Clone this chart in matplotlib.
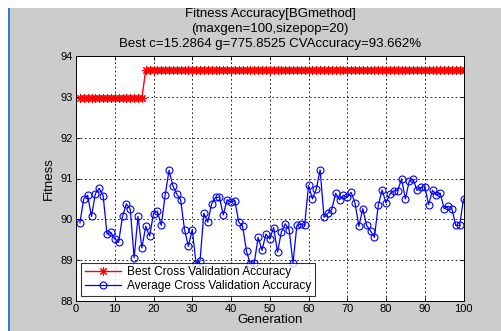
import matplotlib
matplotlib.use("Agg")
import matplotlib.pyplot as plt
from matplotlib.patches import Rectangle
import numpy as np

plt.rcParams['font.family'] = ['Liberation Sans', 'DejaVu Sans']

generations = np.arange(1, 101)

best_acc = [92.97] * 17 + [93.66] * 83

avg_acc = [
    89.91, 90.50, 90.59, 90.07, 90.63, 90.76, 90.58, 89.64, 89.68, 89.52,
    89.44, 90.07, 90.38, 90.25, 89.06, 90.07, 89.30, 89.83, 89.59, 90.14,
    90.20, 89.85, 90.59, 91.20, 90.82, 90.62, 90.48, 89.75, 89.34, 89.75,
    88.90, 88.98, 90.15, 89.93, 90.38, 90.54, 90.54, 90.11, 90.48, 90.42,
    90.46, 89.93, 89.83, 89.22, 88.90, 88.93, 89.56, 89.24, 89.64, 89.52,
    89.80, 89.20, 89.69, 89.89, 89.75, 88.93, 89.85, 89.89, 89.85, 90.83,
    90.50, 90.74, 91.21, 90.05, 90.15, 90.24, 90.64, 90.48, 90.59, 90.54,
    90.66, 90.40, 89.83, 90.26, 89.85, 89.72, 89.56, 90.34, 90.72, 90.40,
    90.62, 90.70, 90.70, 90.99, 90.50, 90.94, 90.98, 90.71, 90.78, 90.80,
    90.36, 90.71, 90.59, 90.64, 90.26, 90.32, 90.26, 89.85, 89.85, 90.50,
]

xticks = list(range(0, 101, 10))
yticks = list(range(88, 95))

W, H = 501, 331
fig = plt.figure(figsize=(W / 100, H / 100), dpi=100, facecolor='white')

# grey matlab window area with the blue border on the left
fig.patches.append(Rectangle((10 / W, 0), 1 - 10 / W, 1 - 8 / H,
                             transform=fig.transFigure, facecolor='#cccccc',
                             edgecolor='none', zorder=-2))
fig.patches.append(Rectangle((7.5 / W, 0), 2.5 / W, 1 - 8 / H,
                             transform=fig.transFigure, facecolor='#3a7bd5',
                             edgecolor='none', zorder=-1))

ax = fig.add_axes([76 / W, 1 - 301 / H, (463.5 - 76) / W, (301 - 56) / H])
ax.set_facecolor('white')

ax.plot(generations, best_acc, '-', marker=(8, 2, 0), color='red', lw=1,
        ms=6, mew=0.8, label='Best Cross Validation Accuracy')
ax.plot(generations, avg_acc, '-o', color='blue', lw=0.9, ms=5, mew=0.8,
        mfc='none', label='Average Cross Validation Accuracy')

ax.set_xlim(0, 100)
ax.set_ylim(88, 94)
ax.set_xticks(xticks)
ax.set_yticks(yticks)
ax.tick_params(direction='in', length=3, width=0.6, labelsize=8, pad=2,
               top=True, right=True)
ax.grid(True, color='black', linestyle=(0, (2, 3)), linewidth=0.6)
for s in ax.spines.values():
    s.set_linewidth(0.7)

ax.set_xlabel('Generation', fontsize=9.5, labelpad=0)
ax.set_ylabel('Fitness', fontsize=9.5, labelpad=4)

fig.text(270 / W, 1 - 14 / H, 'Fitness Accuracy[BGmethod]', ha='center',
         va='center', fontsize=9.5)
fig.text(270 / W, 1 - 29 / H, '(maxgen=100,sizepop=20)', ha='center',
         va='center', fontsize=9.5)
fig.text(270 / W, 1 - 44 / H, 'Best c=15.2864 g=775.8525 CVAccuracy=93.662%',
         ha='center', va='center', fontsize=9.5)

leg = ax.legend(loc='lower left', fontsize=8.6, frameon=True, fancybox=False,
                borderaxespad=0.45, handlelength=3.0, borderpad=0.3,
                labelspacing=0.15, handletextpad=0.5)
leg.get_frame().set_edgecolor('black')
leg.get_frame().set_linewidth(0.8)

fig.savefig('out.png', dpi=100, facecolor=fig.get_facecolor())
